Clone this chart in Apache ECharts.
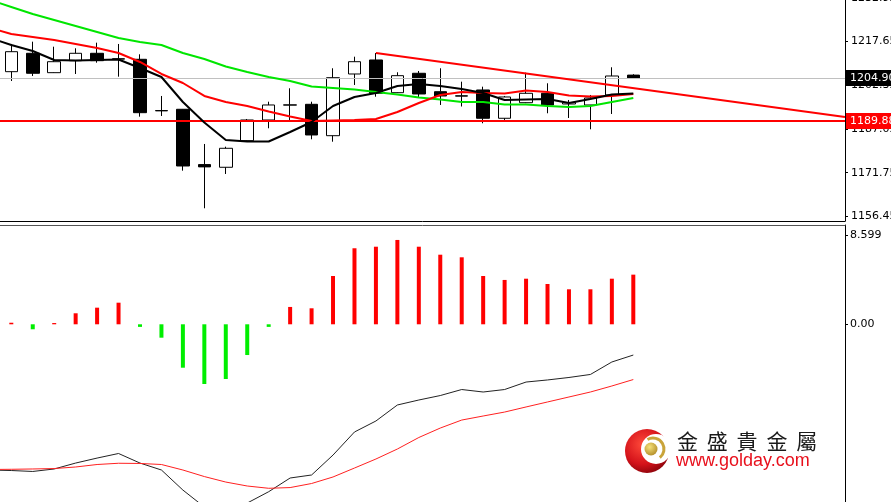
<!DOCTYPE html>
<html>
<head>
<meta charset="utf-8">
<script src="https://cdn.jsdelivr.net/npm/echarts@6/dist/echarts.min.js"></script>
<style>
html,body{margin:0;padding:0;background:#fff;}
#chart{width:891px;height:502px;}
</style>
</head>
<body>
<div id="chart"></div>
<script>
// ---- Price candles (bar index 0..29) ----
const candleOpen  = [1207.10,1213.53,1206.75,1210.94,1213.53,1211.60,1211.43,1193.50,1193.95,1174.60,1173.66,1182.96,1190.20,1195.40,1195.69,1184.71,1206.29,1211.19,1199.75,1206.54,1200.10,1198.65,1200.70,1190.80,1196.25,1199.54,1195.80,1195.45,1198.95,1205.90];
const candleClose = [1214.09,1206.54,1210.59,1213.53,1210.94,1211.50,1192.76,1193.40,1174.11,1173.80,1180.30,1190.20,1195.45,1195.50,1184.96,1205.00,1210.59,1199.54,1205.70,1199.30,1198.60,1198.55,1190.80,1198.25,1199.54,1195.45,1196.32,1197.90,1205.59,1204.90];
const candleLow   = [1203.84,1205.59,1206.64,1206.29,1210.24,1205.35,1191.36,1191.60,1172.47,1159.32,1171.32,1182.86,1187.30,1190.20,1183.45,1182.61,1202.45,1198.35,1199.65,1198.14,1195.45,1194.92,1189.05,1189.85,1196.10,1192.55,1190.90,1186.95,1192.30,1204.70];
const candleHigh  = [1216.79,1217.59,1215.84,1215.28,1217.24,1216.79,1213.18,1198.60,1194.05,1181.81,1180.86,1190.55,1196.60,1201.29,1196.60,1208.29,1212.34,1213.64,1206.89,1207.34,1208.29,1203.60,1201.85,1198.60,1206.75,1203.04,1197.20,1198.95,1208.64,1206.20];

// ---- Moving averages (bar index -1..29, first value is the bar before the window) ----
const maGreen = [1232.20,1229.73,1227.28,1225.18,1223.08,1220.98,1218.88,1217.49,1216.44,1213.64,1211.54,1208.91,1206.99,1205.24,1203.85,1201.92,1201.40,1200.87,1200.00,1199.12,1198.07,1197.37,1196.50,1196.50,1195.62,1195.62,1195.10,1194.75,1195.10,1196.50,1197.90];
const maRed   = [1222.38,1220.28,1219.23,1218.18,1216.79,1215.39,1213.64,1210.49,1206.29,1203.14,1198.60,1196.50,1195.10,1193.17,1191.43,1189.85,1190.03,1190.20,1190.55,1193.00,1196.15,1198.95,1200.00,1199.65,1199.47,1200.52,1200.00,1198.77,1198.42,1198.60,1199.30];
const maBlack = [1218.88,1216.44,1214.34,1211.19,1211.01,1211.19,1211.36,1208.39,1205.24,1196.50,1189.30,1183.20,1182.68,1182.68,1186.00,1189.50,1195.10,1198.25,1199.65,1202.09,1202.79,1202.09,1201.04,1199.65,1197.20,1197.37,1197.55,1196.15,1197.55,1199.12,1199.47];

// ---- Trend line (bar index, price) and levels ----
const trendIdx = [17, 38.87];
const trendVal = [1213.64, 1191.25];
const bidPrice = 1204.90;
const levelPrice = 1189.88;

// ---- Axis labels ----
const priceTicks = [1156.45, 1171.75, 1187.05, 1202.35, 1217.65, 1232.95];
const macdTicks = [0, 8.599];

// ---- MACD (histogram index 0..29, lines index -1..29) ----
const macdHist   = [0.15,-0.48,0.12,1.06,1.60,2.08,-0.25,-1.29,-4.18,-5.75,-5.27,-2.96,-0.25,1.67,1.54,4.65,7.32,7.47,8.12,7.47,6.70,6.45,4.65,4.27,4.39,3.88,3.37,3.37,4.39,4.78];
const macdLine   = [-14.03,-14.08,-14.17,-13.93,-13.36,-12.88,-12.44,-13.36,-14.03,-15.96,-17.59,-17.88,-17.21,-16.12,-14.80,-14.51,-12.59,-10.37,-9.31,-7.77,-7.29,-6.86,-6.28,-6.52,-6.28,-5.56,-5.36,-5.12,-4.83,-3.63,-2.96];
const signalLine = [-13.98,-13.96,-13.93,-13.89,-13.74,-13.50,-13.38,-13.40,-13.50,-14.03,-14.66,-15.19,-15.57,-15.79,-15.72,-15.33,-14.70,-13.84,-12.97,-12.01,-10.90,-9.99,-9.22,-8.83,-8.45,-7.96,-7.48,-7.00,-6.52,-5.94,-5.32];

const brandName = ['金','盛','貴','金','屬'];
const brandUrl = 'www.golday.com';

const candleData = candleOpen.map((o, i) => [i, o, candleClose[i], candleLow[i], candleHigh[i]]);
const withPrev = arr => arr.map((v, k) => [k - 1, v]);

const X_MIN = -0.527, X_MAX = 38.87;
const chart = echarts.init(document.getElementById('chart'), null, {renderer: 'canvas'});

const axisFont = {color: '#000', fontFamily: 'DejaVu Sans', fontSize: 11};

const graphics = [
  {type: 'circle', shape: {cx: 647, cy: 451, r: 22}, z: 100,
   style: {fill: {type: 'radial', x: 0.4, y: 0.35, r: 0.75,
     colorStops: [{offset: 0, color: '#ff4a3a'}, {offset: 0.6, color: '#d4121a'}, {offset: 1, color: '#7a0008'}]}}},
  {type: 'circle', shape: {cx: 656, cy: 449, r: 15}, z: 101, style: {fill: '#fff'}},
  {type: 'arc', shape: {cx: 653, cy: 449, r: 11, startAngle: -2.1, endAngle: 0.9}, z: 102,
   style: {stroke: '#c9a43a', lineWidth: 3, fill: null}},
  {type: 'circle', shape: {cx: 651, cy: 449, r: 6.5}, z: 103,
   style: {fill: {type: 'radial', x: 0.4, y: 0.35, r: 0.8,
     colorStops: [{offset: 0, color: '#f6e27a'}, {offset: 1, color: '#a8801c'}]}}}
];
brandName.forEach((ch, k) => {
  graphics.push({type: 'text', z: 104, x: 677 + k * 29.8, y: 441,
    style: {text: ch, fontSize: 21, fontFamily: 'Noto Sans CJK TC', fill: '#1a1a1a', verticalAlign: 'middle', align: 'left'}});
});
graphics.push({type: 'text', z: 104, x: 676, y: 461,
  style: {text: brandUrl, fontSize: 18, fontFamily: 'Liberation Sans', fill: '#e8101c', verticalAlign: 'middle', align: 'left'}});

const option = {
  animation: false,
  backgroundColor: '#fff',
  grid: [
    {left: 0, top: -3, width: 845, height: 224, containLabel: false, outerBoundsMode: 'none'},
    {left: 0, top: 225, width: 845, height: 277, containLabel: false, outerBoundsMode: 'none'}
  ],
  xAxis: [
    {gridIndex: 0, type: 'value', min: X_MIN, max: X_MAX,
     axisLine: {show: true, onZero: false, lineStyle: {color: '#000', width: 1}},
     axisTick: {show: false}, axisLabel: {show: false}, splitLine: {show: false}},
    {gridIndex: 1, type: 'value', position: 'top', min: X_MIN, max: X_MAX,
     axisLine: {show: true, onZero: false, lineStyle: {color: '#555', width: 1}},
     axisTick: {show: false}, axisLabel: {show: false}, splitLine: {show: false}}
  ],
  yAxis: [
    {gridIndex: 0, type: 'value', position: 'right', min: 1154.87, max: 1233.22,
     axisLine: {show: true, onZero: false, lineStyle: {color: '#000'}},
     axisTick: {show: true, customValues: priceTicks, length: 3, lineStyle: {color: '#000'}},
     axisLabel: Object.assign({customValues: priceTicks, margin: 6, formatter: v => v.toFixed(2)}, axisFont),
     splitLine: {show: false}},
    {gridIndex: 1, type: 'value', position: 'right', min: -17.11, max: 9.56,
     axisLine: {show: true, onZero: false, lineStyle: {color: '#000'}},
     axisTick: {show: true, customValues: macdTicks, length: 3, lineStyle: {color: '#000'}},
     axisLabel: Object.assign({customValues: macdTicks, margin: 5, formatter: v => (v === 0 ? v.toFixed(2) : v.toFixed(3))}, axisFont),
     splitLine: {show: false}}
  ],
  graphic: graphics,
  series: [
    {type: 'candlestick', xAxisIndex: 0, yAxisIndex: 0, data: candleData, barWidth: 13, z: 2,
     itemStyle: {color: '#fff', color0: '#000', borderColor: '#000', borderColor0: '#000', borderWidth: 1},
     markLine: {
       silent: true, symbol: ['none', 'none'], animation: false,
       data: [
         {yAxis: bidPrice, lineStyle: {color: '#c0c0c0', width: 1, type: 'solid'},
          label: {show: true, position: 'end', distance: 1, formatter: p => p.value.toFixed(2),
                  color: '#fff', backgroundColor: '#000', padding: [3, 4, 2, 4], fontFamily: 'DejaVu Sans', fontSize: 11}},
         {yAxis: levelPrice, lineStyle: {color: '#ff0000', width: 2, type: 'solid'},
          label: {show: true, position: 'end', distance: 1, formatter: p => p.value.toFixed(2),
                  color: '#fff', backgroundColor: '#ff0000', padding: [3, 4, 2, 4], fontFamily: 'DejaVu Sans', fontSize: 11}}
       ]
     }},
    {type: 'line', xAxisIndex: 0, yAxisIndex: 0, data: withPrev(maGreen), symbol: 'none', z: 5,
     lineStyle: {color: '#00e600', width: 2}},
    {type: 'line', xAxisIndex: 0, yAxisIndex: 0, data: withPrev(maRed), symbol: 'none', z: 5,
     lineStyle: {color: '#ff0000', width: 2}},
    {type: 'line', xAxisIndex: 0, yAxisIndex: 0, data: withPrev(maBlack), symbol: 'none', z: 6,
     lineStyle: {color: '#000', width: 2}},
    {type: 'line', xAxisIndex: 0, yAxisIndex: 0, data: trendIdx.map((x, k) => [x, trendVal[k]]), symbol: 'none', z: 6,
     lineStyle: {color: '#ff0000', width: 2}},
    {type: 'bar', xAxisIndex: 1, yAxisIndex: 1, barWidth: 4, z: 3,
     data: macdHist.map((v, i) => ({value: [i, v], itemStyle: {color: v >= 0 ? '#ff0000' : '#00ee00'}}))},
    {type: 'line', xAxisIndex: 1, yAxisIndex: 1, data: withPrev(macdLine), symbol: 'none', z: 4,
     lineStyle: {color: '#222', width: 1}},
    {type: 'line', xAxisIndex: 1, yAxisIndex: 1, data: withPrev(signalLine), symbol: 'none', z: 4,
     lineStyle: {color: '#ff2020', width: 1}}
  ]
};
chart.setOption(option);
</script>
</body>
</html>
